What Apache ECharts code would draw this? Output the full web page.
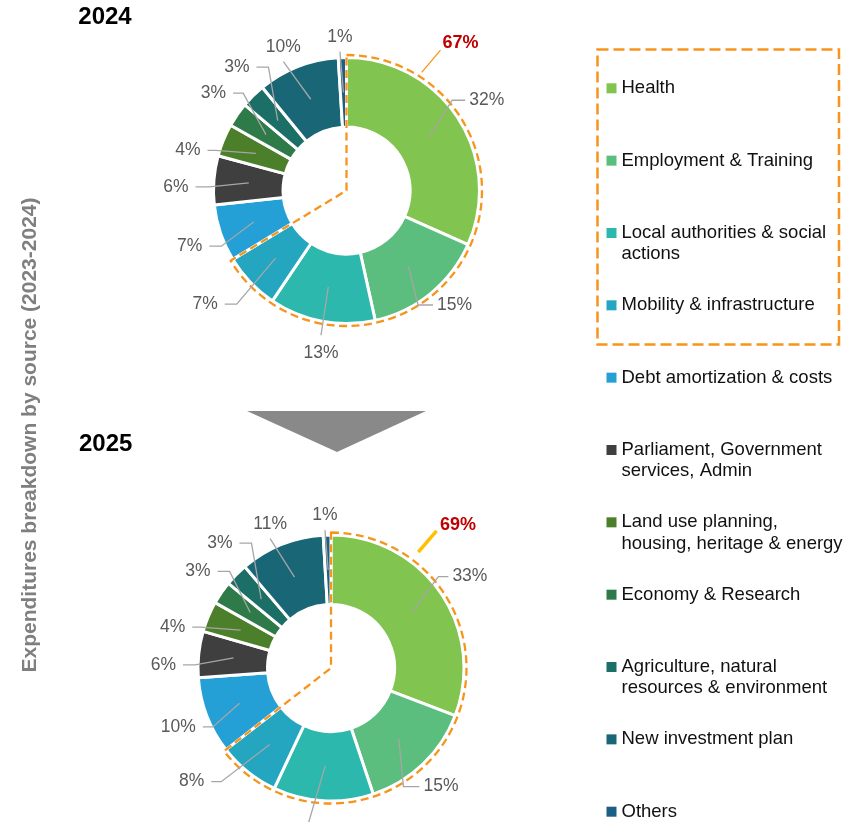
<!DOCTYPE html>
<html>
<head>
<meta charset="utf-8">
<script src="https://cdn.jsdelivr.net/npm/echarts@6/dist/echarts.min.js"></script>
<style>
html,body{margin:0;padding:0;background:#ffffff;}
#chart{width:848px;height:822px;}
</style>
</head>
<body>
<div id="chart"></div>
<script>
// ---------------- data ----------------
const categories = [
  'Health',
  'Employment & Training',
  'Local authorities & social actions',
  'Mobility & infrastructure',
  'Debt amortization & costs',
  'Parliament, Government services, Admin',
  'Land use planning, housing, heritage & energy',
  'Economy & Research',
  'Agriculture, natural resources & environment',
  'New investment plan',
  'Others'
];
const legendLabels = [
  'Health',
  'Employment & Training',
  'Local authorities & social\nactions',
  'Mobility & infrastructure',
  'Debt amortization & costs',
  'Parliament, Government\nservices, Admin',
  'Land use planning,\nhousing, heritage & energy',
  'Economy & Research',
  'Agriculture, natural\nresources & environment',
  'New investment plan',
  'Others'
];
const years = ['2024', '2025'];
const values2024 = [32, 15, 13, 7, 7, 6, 4, 3, 3, 10, 1];
const values2025 = [33, 15, 13, 8, 10, 6, 4, 3, 3, 11, 1];
const highlightedCount = 4; // first four categories are boxed
const axisTitle = 'Expenditures breakdown by source (2023-2024)';

// ---------------- style / layout ----------------
const FONT = 'Liberation Sans';
const colors = ['#82c450', '#5bbd7e', '#2db8ad', '#24a6c1', '#24a0d6', '#3f3f3f',
                '#4b7f2a', '#2e7a48', '#1b6f66', '#186676', '#1b5f86'];
const ORANGE = '#f7941d';
const pieCenters = [[346.5, 190.5], [331, 668]];
const ring = [63.5, 133];
const labelRadius = 98;
const outlineRadius = 135.5;
// leader-line elbows: [angle (deg clockwise from top), radius, horizontal tail]
const labelGuides = [
  [[49.5, 139, 13], [148, 135, 15], [190, 147, 0], [224, 158, -12], [246, 137, -12],
   [271.5, 137, -14], [287, 137, -8], [313.3, 142, -10], [327.7, 146, -12], [333.9, 143.5, 0], [357.3, 139, 0]],
  [[49.6, 141, 10], [148.6, 139, 16], [189, 172, 0], [224, 158, -10], [243.5, 132, -10],
   [271.3, 136, -12], [287.4, 137, -8], [313.6, 140, -12], [327.5, 148, -12], [334.8, 143, 0], [357.5, 138, 0]]
];
const totalGuides = [
  {a0: 32.5, r0: 140, a1: 33.8, r1: 169, dx: 2, dy: 2, lineColor: ORANGE, lineWidth: 1.3},
  {a0: 37.0, r0: 145, a1: 37.6, r1: 173, dx: 3.5, dy: 2.6, lineColor: '#ffc000', lineWidth: 3.5}
];

function polar(c, r, deg) {
  const a = deg * Math.PI / 180;
  return [c[0] + r * Math.sin(a), c[1] - r * Math.cos(a)];
}

function sliceLabelLayout(yi) {
  return function (params) {
    const g = labelGuides[yi][params.dataIndex];
    if (!g) return {};
    const c = pieCenters[yi];
    let start;
    if (params.labelLinePoints && params.labelLinePoints[0]) {
      start = [params.labelLinePoints[0][0], params.labelLinePoints[0][1]];
    } else {
      start = polar(c, labelRadius, g[0]);
    }
    const elbow = polar(c, g[1], g[0]);
    const h = g[2];
    if (h !== 0) {
      const end = [elbow[0] + h, elbow[1]];
      const gap = h > 0 ? 4 : 7;
      return {
        x: end[0] + (h > 0 ? gap : -gap), y: end[1],
        align: h > 0 ? 'left' : 'right', verticalAlign: 'middle',
        labelLinePoints: [start, elbow, end]
      };
    }
    const above = elbow[1] < c[1];
    return {
      x: elbow[0], y: elbow[1] + (above ? -5.5 : 8.5),
      align: 'center', verticalAlign: above ? 'bottom' : 'top',
      labelLinePoints: [start, elbow, [elbow[0], elbow[1]]]
    };
  };
}

function totalLabelLayout(yi) {
  return function (params) {
    if (params.dataIndex !== 0) return {};
    const t = totalGuides[yi];
    const c = pieCenters[yi];
    const s = polar(c, t.r0, t.a0);
    const e = polar(c, t.r1, t.a1);
    return {
      x: e[0] + t.dx, y: e[1] + t.dy, align: 'left', verticalAlign: 'bottom',
      labelLinePoints: [s, e, [e[0], e[1]]]
    };
  };
}

function yearSeries(yi, values) {
  const c = pieCenters[yi];
  const total = values.reduce((a, b) => a + b, 0);
  const boxed = values.slice(0, highlightedCount).reduce((a, b) => a + b, 0);
  const t = totalGuides[yi];
  return [
    {
      type: 'pie', name: years[yi], center: c, radius: ring,
      startAngle: 90, clockwise: true, silent: true, avoidLabelOverlap: false,
      emphasis: {disabled: true},
      label: {show: false}, labelLine: {show: false},
      itemStyle: {borderColor: '#ffffff', borderWidth: 3},
      data: categories.map((n, i) => ({name: n, value: values[i], itemStyle: {color: colors[i]}})),
      z: 2
    },
    {
      type: 'pie', name: years[yi] + ' boxed', center: c, radius: [0, outlineRadius],
      startAngle: 90, clockwise: true, silent: true, avoidLabelOverlap: false,
      emphasis: {disabled: true},
      data: [
        {name: 'boxed share', value: boxed,
         itemStyle: {color: 'rgba(0,0,0,0)', borderColor: ORANGE, borderWidth: 2.3, borderType: [8, 4.5]},
         label: {show: true, position: 'outside', formatter: '{c}%', color: '#c00000',
                 fontFamily: FONT, fontWeight: 'bold', fontSize: 18},
         labelLine: {show: true, lineStyle: {color: t.lineColor, width: t.lineWidth}}},
        {name: 'other share', value: total - boxed,
         itemStyle: {color: 'rgba(0,0,0,0)', borderWidth: 0},
         label: {show: false}, labelLine: {show: false}}
      ],
      labelLayout: totalLabelLayout(yi),
      z: 3
    },
    {
      type: 'pie', name: years[yi] + ' labels', center: c, radius: [0, labelRadius],
      startAngle: 90, clockwise: true, silent: true, avoidLabelOverlap: false,
      emphasis: {disabled: true},
      itemStyle: {color: 'rgba(0,0,0,0)', borderWidth: 0},
      label: {show: true, position: 'outside', formatter: '{c}%', color: '#595959',
              fontFamily: FONT, fontSize: 17.5},
      labelLine: {show: true, length: 10, length2: 10, smooth: false,
                  lineStyle: {color: '#a6a6a6', width: 1.3}},
      data: categories.map((n, i) => ({name: n, value: values[i]})),
      labelLayout: sliceLabelLayout(yi),
      z: 4
    }
  ];
}

const chart = echarts.init(document.getElementById('chart'), null, {renderer: 'canvas'});

const legendLineHeight = 21.3;
const legendPitch = 72.34;
const legendFirstCenter = 88.3;

const option = {
  animation: false,
  backgroundColor: '#ffffff',
  legend: {
    type: 'plain',
    orient: 'vertical',
    left: 606.5,
    top: legendFirstCenter - 1.5 * legendLineHeight,
    height: 2000,
    width: 240,
    padding: 0,
    itemGap: legendPitch - 3 * legendLineHeight,
    itemWidth: 10, itemHeight: 10,
    icon: 'rect',
    itemStyle: {borderWidth: 0},
    selectedMode: false,
    data: categories,
    formatter: function (name) {
      const lbl = legendLabels[categories.indexOf(name)];
      return lbl.indexOf('\n') >= 0 ? '\n' + lbl : '\n' + lbl + '\n';
    },
    textStyle: {fontFamily: FONT, fontSize: 18.5, lineHeight: legendLineHeight, color: '#111111'}
  },
  graphic: [
    {type: 'text', x: 78.3, y: 17, style: {text: years[0], font: 'bold 24px "Liberation Sans"', fill: '#000000', align: 'left', verticalAlign: 'middle'}},
    {type: 'text', x: 79, y: 444.7, style: {text: years[1], font: 'bold 24px "Liberation Sans"', fill: '#000000', align: 'left', verticalAlign: 'middle'}},
    {type: 'text', x: 30, y: 435, rotation: Math.PI / 2,
     style: {text: axisTitle, font: 'bold 21px "Liberation Sans"', fill: '#7f7f7f', align: 'center', verticalAlign: 'middle'}},
    {type: 'polygon', shape: {points: [[247, 411], [426, 411], [337, 452]]}, style: {fill: '#898989'}},
    {type: 'rect', shape: {x: 597.5, y: 49.5, width: 241.5, height: 295},
     style: {fill: 'none', stroke: ORANGE, lineWidth: 2.5, lineDash: [11, 5]}}
  ],
  series: [].concat(yearSeries(0, values2024), yearSeries(1, values2025))
};
chart.setOption(option);
</script>
</body>
</html>
